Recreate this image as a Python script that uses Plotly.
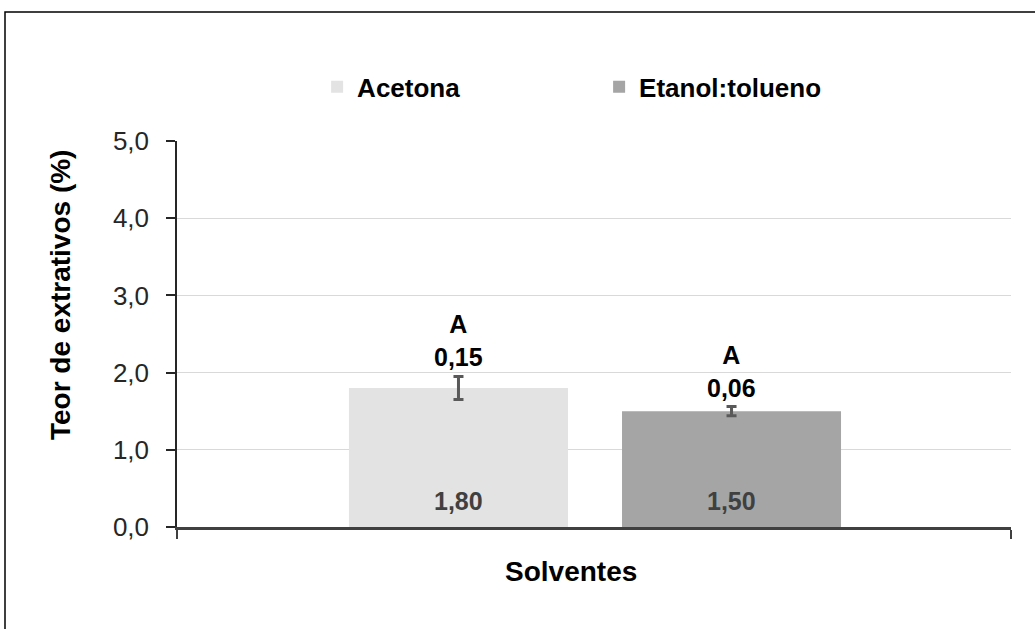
import plotly.graph_objects as go

# ---- data ----
categories = ["Solventes"]
series_names = ["Acetona", "Etanol:tolueno"]
means = [1.80, 1.50]
errors = [0.15, 0.06]
letters = ["A", "A"]
mean_labels = ["1,80", "1,50"]
error_labels = ["0,15", "0,06"]
y_ticks = [0, 1, 2, 3, 4, 5]

# ---- style ----
colors = ["#e3e3e3", "#a5a5a5"]
bar_width = 0.2626
bar_offsets = [-0.2938, 0.0336]
FONT = "Liberation Sans, Arial, sans-serif"

fig = go.Figure()
for i, name in enumerate(series_names):
    fig.add_trace(go.Bar(
        x=categories, y=[means[i]], name=name,
        width=bar_width, offset=bar_offsets[i],
        marker=dict(color=colors[i], line=dict(width=0)),
        error_y=dict(type="data", array=[errors[i]], color="#595959",
                     thickness=3, width=5),
        hoverinfo="skip",
    ))
    cx = bar_offsets[i] + bar_width / 2
    fig.add_annotation(
        x=cx, y=means[i] + errors[i], xref="x", yref="y",
        text=f"<b>{letters[i]}<br>{error_labels[i]}</b>",
        showarrow=False, yanchor="bottom", yshift=3,
        font=dict(family=FONT, size=25, color="#000000"),
    )
    fig.add_annotation(
        x=cx, y=0, xref="x", yref="y",
        text=f"<b>{mean_labels[i]}</b>",
        showarrow=False, yanchor="bottom", yshift=10,
        font=dict(family=FONT, size=25, color="#404040"),
    )

# axis titles
fig.add_annotation(
    x=0.4724, y=-0.115, xref="paper", yref="paper",
    text="<b>Solventes</b>", showarrow=False, yanchor="middle",
    font=dict(family=FONT, size=28, color="#000000"),
)
fig.add_annotation(
    x=-0.1403, y=0.601, xref="paper", yref="paper",
    text="<b>Teor de extrativos (%)</b>", showarrow=False, textangle=-90,
    xanchor="center", yanchor="middle",
    font=dict(family=FONT, size=28, color="#000000"),
)

# outer border
fig.add_shape(type="rect", xref="paper", yref="paper",
              x0=(5 - 177) / 834, x1=1.2, y0=-0.5, y1=(527 - 12) / 386,
              line=dict(color="#000000", width=1.5), fillcolor="rgba(0,0,0,0)")

fig.update_layout(
    width=1035, height=629,
    margin=dict(l=177, r=24, t=141, b=102, autoexpand=False),
    paper_bgcolor="white", plot_bgcolor="white",
    barmode="overlay",
    separators=", ",
    showlegend=True,
    legend=dict(orientation="h", x=0.168, y=1.14, xanchor="left", yanchor="middle",
                font=dict(family=FONT, size=26, color="#000000", weight="bold"),
                entrywidth=237, entrywidthmode="pixels",
                bgcolor="rgba(0,0,0,0)", itemclick=False),
    font=dict(family=FONT, color="#000000"),
)
fig.update_xaxes(
    type="category", range=[-0.5, 0.5], showticklabels=False,
    tickson="boundaries", ticks="outside", ticklen=9, tickwidth=2,
    tickcolor="#404040",
    showline=True, linecolor="#404040", linewidth=2.5,
    showgrid=False, zeroline=False, fixedrange=True,
)
fig.update_yaxes(
    range=[0, 5], tickvals=y_ticks, tickformat=".1f",
    ticks="outside", ticklen=9, tickwidth=1.5, tickcolor="#262626",
    ticklabelstandoff=12,
    tickfont=dict(family=FONT, size=26, color="#262626"),
    showline=True, linecolor="#262626", linewidth=1.5,
    showgrid=True, gridcolor="#d9d9d9", gridwidth=1, zeroline=False,
    fixedrange=True,
)

fig.write_html("out.html", config={"displayModeBar": False},
               post_script="document.body.style.margin='0';document.body.style.overflow='hidden';")
